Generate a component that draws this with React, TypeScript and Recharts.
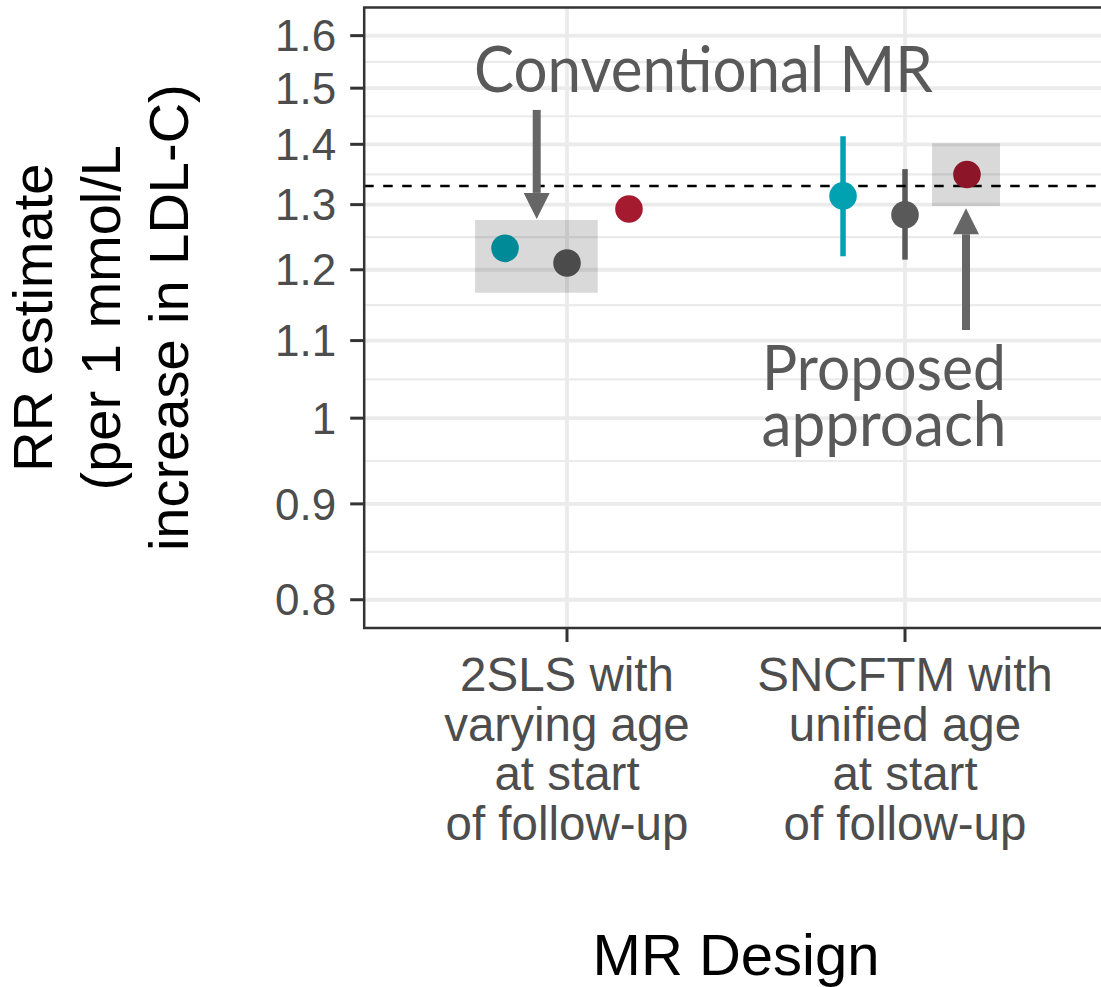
import React from "react";
import {
  ComposedChart,
  Scatter,
  ErrorBar,
  XAxis,
  YAxis,
  CartesianGrid,
  ReferenceLine,
  ReferenceArea,
  ReferenceDot,
  Label,
} from "recharts";

// MR designs (x categories), one label line per entry
const designLines = [
  ["2SLS with", "varying age", "at start", "of follow-up"],
  ["SNCFTM with", "unified age", "at start", "of follow-up"],
];

// three estimators, dodged inside each design
const methodColors = ["#00A1B1", "#595959", "#A51A2F"];

// RR point estimates per design
const estTeal = [1.232, 1.314];
const estDark = [1.21, 1.284];
const estRed = [1.293, 1.349];

// interval bounds (equal to the estimate where no bar is drawn)
const lowTeal = [1.232, 1.22];
const highTeal = [1.232, 1.414];
const lowDark = [1.21, 1.215];
const highDark = [1.21, 1.358];
const lowRed = [1.293, 1.349];
const highRed = [1.293, 1.349];

// true effect (dashed line)
const trueRR = 1.33;

const majorTicks = [0.8, 0.9, 1, 1.1, 1.2, 1.3, 1.4, 1.5, 1.6];
const minorTicks = [0.8485, 0.9487, 1.0488, 1.1489, 1.249, 1.3491, 1.4491, 1.5492];

const yDomain = [0.7727, 1.6565];
const xDomain = [0.4, 2.6];
const dodge = 0.55;

const series = [
  { est: estTeal, low: lowTeal, high: highTeal },
  { est: estDark, low: lowDark, high: highDark },
  { est: estRed, low: lowRed, high: highRed },
];

const rows = series.map((s, k) =>
  s.est.map((v, i) => ({
    x: i + 1 + ((k - 1) * dodge) / 3,
    y: v,
    err: [v - s.low[i], s.high[i] - v],
  }))
);

const axisFont = "'Liberation Sans', Arial, sans-serif";
const noteFont = "Lato, 'Open Sans', sans-serif";
const noteColor = "#595959";

const dot = (color: string) => (p: any) =>
  <circle cx={p.cx} cy={p.cy} r={13.8} fill={color} />;

const arrowShape = (p: any) => {
  const { x1, y1, x2, y2 } = p;
  const dir = y2 > y1 ? 1 : -1;
  const base = y2 - dir * 26;
  return (
    <g>
      <line x1={x1} y1={y1} x2={x2} y2={base} stroke="#666666" strokeWidth={8} />
      <polygon
        points={`${x2 - 13},${base} ${x2 + 13},${base} ${x2},${y2}`}
        fill="#666666"
      />
    </g>
  );
};

const noteText = (lines: string[], widths: number[], size: number) => (p: any) =>
  (
    <g>
      {lines.map((t, i) => (
        <text
          key={i}
          x={p.cx}
          y={p.cy + i * 56}
          textAnchor="middle"
          fill={noteColor}
          fontFamily={noteFont}
          fontSize={size}
          textLength={widths[i]}
          lengthAdjust="spacingAndGlyphs"
        >
          {t}
        </text>
      ))}
    </g>
  );

const XTick = (props: any) => {
  const { x, y, payload } = props;
  const lines = designLines[Math.round(payload.value) - 1] || [];
  return (
    <text textAnchor="middle" fill="#4D4D4D" fontSize={47.5} fontFamily={axisFont}>
      {lines.map((t, i) => (
        <tspan key={i} x={x} y={y + 48.7 + i * 49.8}>
          {t}
        </tspan>
      ))}
    </text>
  );
};

const yTitleLines = ["RR estimate", "(per 1 mmol/L", "increase in LDL-C)"];
const yTitleBaselines = [52, 120, 188];

const YTitle = (props: any) => {
  const vb = props.viewBox;
  const cy = vb.y + vb.height / 2;
  return (
    <g>
      {yTitleLines.map((t, i) => (
        <text
          key={i}
          x={yTitleBaselines[i]}
          y={cy}
          transform={`rotate(-90, ${yTitleBaselines[i]}, ${cy})`}
          textAnchor="middle"
          fill="#000"
          fontSize={56}
          fontFamily={axisFont}
        >
          {t}
        </text>
      ))}
    </g>
  );
};

const XTitle = (props: any) => {
  const vb = props.viewBox;
  return (
    <text
      x={vb.x + vb.width / 2}
      y={975}
      textAnchor="middle"
      fill="#000"
      fontSize={58}
      fontFamily={axisFont}
    >
      MR Design
    </text>
  );
};

export default function App() {
  return (
    <div
      style={{
        position: "absolute",
        left: 0,
        top: 0,
        width: 1101,
        height: 987,
        overflow: "hidden",
        background: "#fff",
      }}
    >
      <ComposedChart
        width={1110}
        height={987}
        margin={{ top: 7.4, right: 2.2, bottom: 0, left: 0 }}
      >
        <CartesianGrid
          horizontalValues={minorTicks}
          vertical={false}
          stroke="#EBEBEB"
          strokeWidth={2.2}
        />
        <CartesianGrid
          horizontalValues={majorTicks}
          verticalValues={[1, 2]}
          stroke="#EBEBEB"
          strokeWidth={3.8}
        />
        <XAxis
          type="number"
          dataKey="x"
          domain={xDomain}
          ticks={[1, 2]}
          allowDataOverflow
          interval={0}
          height={359}
          tickSize={14}
          tickMargin={0}
          axisLine={false}
          tickLine={{ stroke: "#333333", strokeWidth: 3 }}
          tick={<XTick />}
        >
          <Label content={<XTitle />} />
        </XAxis>
        <YAxis
          type="number"
          dataKey="y"
          scale="log"
          domain={yDomain}
          ticks={majorTicks}
          allowDataOverflow
          interval={0}
          width={364.2}
          tickSize={14}
          tickMargin={14}
          axisLine={false}
          tickLine={{ stroke: "#333333", strokeWidth: 3 }}
          tick={{ fill: "#4D4D4D", fontSize: 44, fontFamily: axisFont }}
          tickFormatter={(v: number) => String(v)}
        >
          <Label content={<YTitle />} />
        </YAxis>
        <ReferenceLine
          y={trueRR}
          stroke="#000"
          strokeWidth={2.4}
          strokeDasharray="9.5 9.5"
          zIndex={500}
        />
        {rows.map((data, k) => (
          <Scatter
            key={k}
            data={data}
            dataKey="y"
            fill={methodColors[k]}
            shape={dot(methodColors[k])}
            isAnimationActive={false}
          >
            <ErrorBar
              dataKey="err"
              direction="y"
              width={0}
              stroke={methodColors[k]}
              strokeWidth={5.5}
              isAnimationActive={false}
            />
          </Scatter>
        ))}
        <ReferenceArea
          x1={0.728}
          x2={1.091}
          y1={1.1667}
          y2={1.2757}
          fill="#000"
          fillOpacity={0.15}
          stroke="none"
          zIndex={700}
        />
        <ReferenceArea
          x1={2.08}
          x2={2.281}
          y1={1.298}
          y2={1.4018}
          fill="#000"
          fillOpacity={0.15}
          stroke="none"
          zIndex={700}
        />
        <ReferenceArea
          x1={xDomain[0]}
          x2={xDomain[1]}
          y1={yDomain[0]}
          y2={yDomain[1]}
          fill="none"
          stroke="#333333"
          strokeWidth={2.5}
          ifOverflow="visible"
          zIndex={750}
        />
        <ReferenceLine
          segment={[
            { x: 0.9104, y: 1.4604 },
            { x: 0.9104, y: 1.2774 },
          ]}
          shape={arrowShape}
          zIndex={800}
        />
        <ReferenceLine
          segment={[
            { x: 2.1805, y: 1.1145 },
            { x: 2.1805, y: 1.2942 },
          ]}
          shape={arrowShape}
          zIndex={800}
        />
        <ReferenceDot
          x={1.4038}
          y={1.4935}
          r={0}
          shape={noteText(["Conventional MR"], [459], 64)}
          zIndex={900}
        />
        <ReferenceDot
          x={1.9379}
          y={1.0353}
          r={0}
          shape={noteText(["Proposed", "approach"], [244, 245], 61)}
          zIndex={900}
        />
      </ComposedChart>
    </div>
  );
}
